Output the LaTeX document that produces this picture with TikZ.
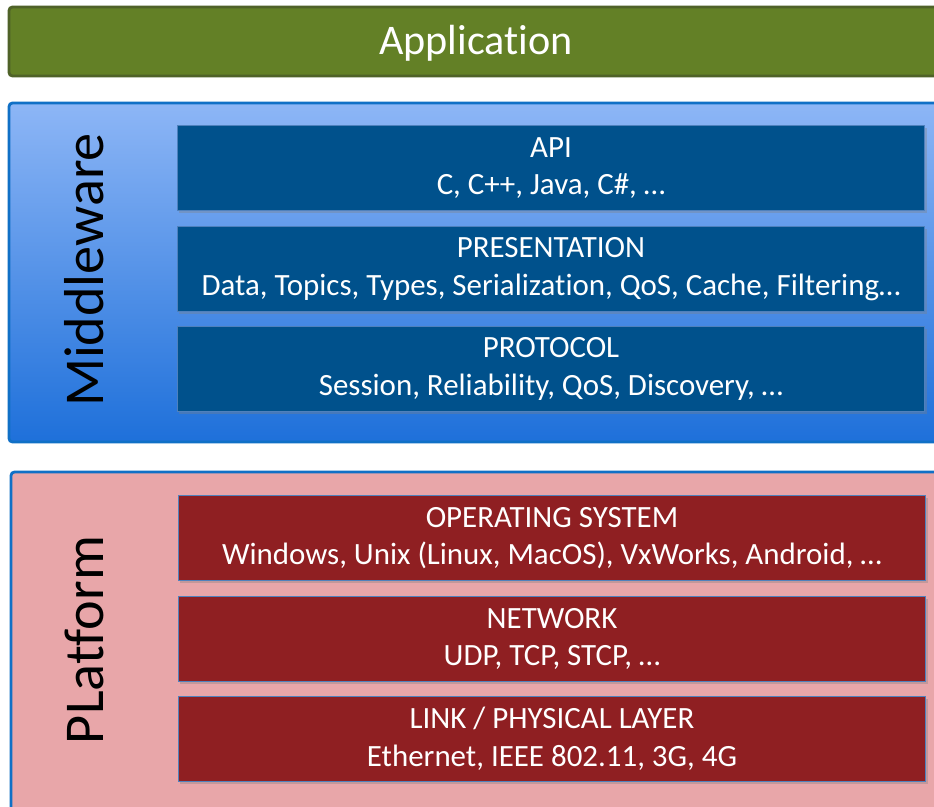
\documentclass[tikz,border=0pt]{standalone}
\usepackage{fontspec}
\setmainfont[Ligatures=NoCommon]{Carlito}
\usetikzlibrary{shadows}
\definecolor{appfill}{RGB}{99,128,38}
\definecolor{appline}{RGB}{79,98,40}
\definecolor{midtop}{RGB}{141,182,246}
\definecolor{midbot}{RGB}{30,112,218}
\definecolor{boxline}{RGB}{16,112,198}
\definecolor{platfill}{RGB}{232,166,169}
\definecolor{apiblue}{RGB}{0,81,140}
\definecolor{osred}{RGB}{143,31,34}
\definecolor{edgeblue}{RGB}{79,129,189}

\tikzset{
  layer/.style={draw=edgeblue, line width=0.5pt, minimum width=14.96cm,
    minimum height=1.7cm, inner sep=0pt, align=center, text=white,
    font=\fontsize{17.6}{21.5}\selectfont,
    drop shadow={shadow xshift=1pt, shadow yshift=-1.5pt, opacity=0.35}},
  midlayer/.style={layer, fill=apiblue},
  platlayer/.style={layer, fill=osred},
  sidelabel/.style={rotate=90, font=\fontsize{32}{32}\selectfont}
}

\begin{document}
\begin{tikzpicture}[x=0.02cm,y=-0.02cm]
\clip (0,0) rectangle (934,807);
\fill[white] (0,0) rectangle (934,807);

% application
\draw[rounded corners=2pt, fill=appfill, draw=appline, line width=1.6pt] (9,7) rectangle (950,76);
\node[text=white, font=\fontsize{24}{24}\selectfont] (app) at (476,43) {Application};

% middleware
\draw[rounded corners=2pt, top color=midtop, bottom color=midbot, draw=boxline, line width=1.6pt] (9,103) rectangle (950,442);
\node[sidelabel] (mid) at (84,270) {Middleware};
\node[midlayer] (api) at (551,168) {API\\C, C++, Java, C\#, \dots};
\node[midlayer] (pres) at (551,269) {PRESENTATION\\Data, Topics, Types, Serialization, QoS, Cache, Filtering\dots};
\node[midlayer] (proto) at (551,369) {PROTOCOL\\Session, Reliability, QoS, Discovery, \dots};

% platform
\draw[rounded corners=2pt, fill=platfill, draw=boxline, line width=1.6pt] (11,472) rectangle (950,830);
\node[sidelabel] (plat) at (84,640) {PLatform};
\node[platlayer] (os) at (552,538) {OPERATING SYSTEM\\Windows, Unix (Linux, MacOS), VxWorks, Android, \dots};
\node[platlayer] (net) at (552,639) {NETWORK\\UDP, TCP, STCP, \dots};
\node[platlayer] (link) at (552,739) {LINK / PHYSICAL LAYER\\Ethernet, IEEE 802.11, 3G, 4G};
\end{tikzpicture}
\end{document}
